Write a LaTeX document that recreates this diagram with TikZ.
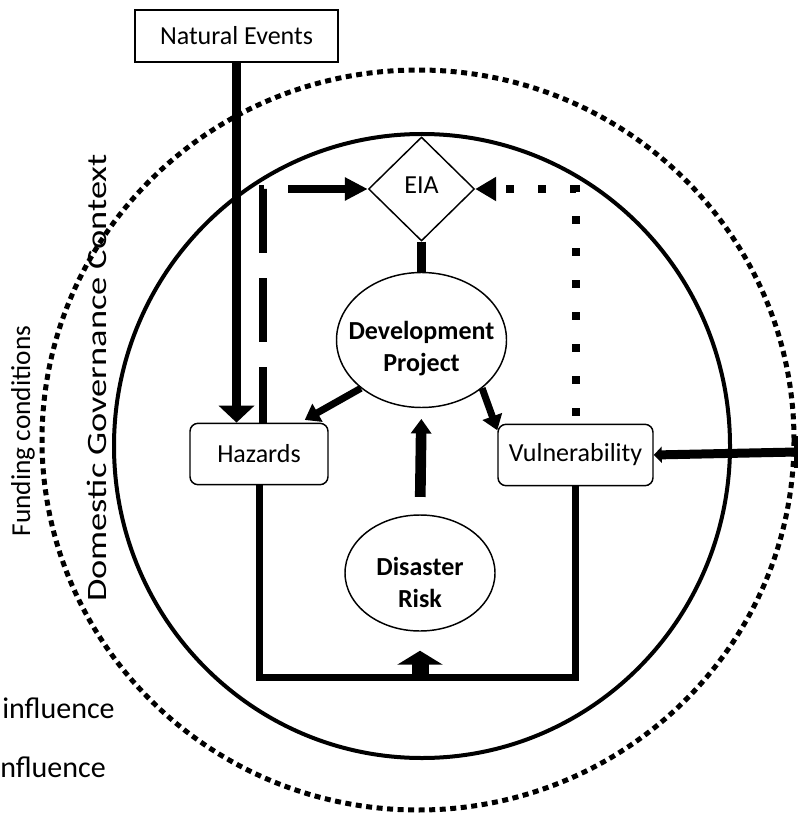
\documentclass[tikz,border=0pt]{standalone}
\usepackage{fontspec}
\setmainfont{Carlito}
\usetikzlibrary{arrows.meta,shapes.geometric}
\begin{document}
\begin{tikzpicture}[x=0.75pt,y=-0.75pt,
  every node/.style={font=\fontsize{19.5}{24}\selectfont, inner sep=0pt},
  box/.style={draw, line width=1.1pt, fill=white, minimum width=152.25pt, minimum height=39pt},
  rbox/.style={draw, line width=1.1pt, fill=white, rounded corners=6pt, minimum height=46pt},
  oval/.style={draw, ellipse, line width=1.1pt, fill=white},
  lbl/.style={font=\fontsize{19.5}{24}\selectfont\bfseries, align=center},
  heavy/.style={line width=6.75pt},
]
\useasboundingbox (0,0) rectangle (798,816);

% outer and inner boundaries
\draw[line width=3.75pt, dash pattern=on 4.5pt off 3.4pt] (418,440) ellipse [x radius=376, y radius=370];
\draw[line width=3pt] (422,446) ellipse [x radius=308, y radius=312];

% nodes
\node[box] (nat) at (236.5,36) {Natural Events};
\node[draw, diamond, line width=1.1pt, fill=white, minimum width=79.5pt, minimum height=78pt] (eia) at (421.5,189) {};
\node (eiatxt) at (421.5,185) {EIA};
\node[oval, minimum width=127.5pt, minimum height=101.25pt] (dev) at (421.5,340) {};
\node[lbl] (devtxt) at (421.5,349) {Development\\Project};
\node[rbox, minimum width=103.5pt] (haz) at (259,454) {Hazards};
\node[rbox, minimum width=116.25pt] (vul) at (575.5,455) {Vulnerability};
\node[oval, minimum width=112.5pt, minimum height=87pt] (dr) at (420,573) {};
\node[lbl] (drtxt) at (420,582) {Disaster\\Risk};

% side labels
\node[rotate=90, font=\fontsize{20.5}{24}\selectfont] (fund) at (23,431) {Funding conditions};
\node[rotate=90, font=\fontsize{21}{24}\selectfont] (dom) at (97,378) {\scalebox{1.3}[1]{Domestic Governance Context}};
\node[anchor=west, font=\fontsize{22.5}{26}\selectfont] (inf1) at (2,708) {influence};
\node[anchor=west, font=\fontsize{22.5}{26}\selectfont] (inf2) at (0,767) {nfluence};

% natural events feed the hazards
\draw[heavy, -{Triangle[length=12.75pt,width=26.25pt]}] (nat.south) -- (nat.south |- haz.north);

% hazards to EIA (dashed)
\draw[line width=6pt, dash pattern=on 48pt off 18.75pt, dash phase=6pt,
      -{Triangle[length=17.25pt,width=16.5pt]}]
  ([xshift=3pt]haz.north) -- ([xshift=3pt]haz.north |- eia.west) -- (eia.west);

% vulnerability to EIA (dotted)
\draw[line width=6pt, dash pattern=on 6pt off 18pt, dash phase=18pt,
      -{Triangle[length=15.75pt,width=17.25pt]}]
  (vul.north) -- (vul.north |- eia.east) -- (eia.east);

% EIA to development project
\draw[heavy] (eia.south) -- (dev.north);

% development project to hazards and vulnerability
\draw[line width=5.25pt, -{Triangle[length=11pt,width=15pt]}] (dev.south west) -- ([xshift=-18pt,yshift=2pt]haz.north east);
\draw[line width=5.25pt, -{Triangle[length=11pt,width=15pt]}] (dev.south east) -- ([yshift=-5pt]vul.north west);

% disaster risk to development project
\draw[line width=8pt, -{Triangle[length=11pt,width=15pt]}, shorten <=13pt, shorten >=8pt] (dr.north) -- (dev.south);

% loop beneath disaster risk
\coordinate (loopL) at (haz.south |- 0,677);
\coordinate (loopR) at (vul.south |- 0,677);
\coordinate (loopM) at (dr.south |- 0,677);
\draw[line width=5.25pt, line join=miter] (haz.south) -- (loopL) -- (loopR) -- (vul.south);
\draw[line width=12.75pt, -{Triangle[length=10.5pt,width=33.75pt]}, shorten >=14.25pt] (loopM) -- (dr.south);

% external influence on vulnerability
\coordinate (edge) at (797,452);
\draw[line width=3pt] (796,436) -- (796,468);
\draw[heavy, -{Triangle[length=6pt,width=12pt]}] (edge) -- (vul.east);
\end{tikzpicture}
\end{document}
